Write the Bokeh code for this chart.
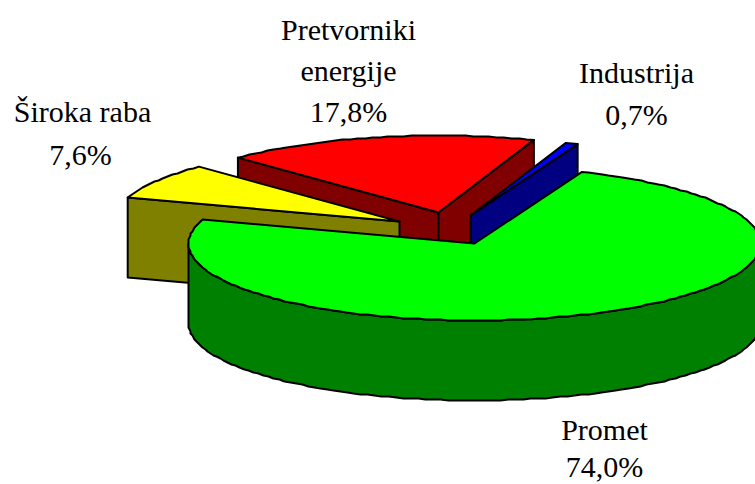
import numpy as np
from bokeh.plotting import figure
from bokeh.models import Range1d
from bokeh.core.properties import value
from bokeh.embed import file_html
from bokeh.resources import INLINE

# Data
categories = ["Promet", "Široka raba", "Pretvorniki energije", "Industrija"]
shares = [74.0, 7.6, 17.8, 0.7]
share_labels = ["74,0%", "7,6%", "17,8%", "0,7%"]

# Colours
top_colors = ["#00ff00", "#ffff00", "#ff0000", "#0000ff"]
side_colors = ["#008000", "#808000", "#800000", "#000080"]

# Projection
CX, CY = 474.0, 243.0
RX, RY = 286.0, 77.0
DEPTH = 80.0
START = 68.0
EXPLODE = [(0, 0), (-75, -22), (-36, -31), (-4, -28)]

p = figure(width=755, height=484, x_range=Range1d(0, 755), y_range=Range1d(484, 0),
           output_backend="svg", toolbar_location=None, min_border=0)
p.axis.visible = False
p.grid.visible = False
p.outline_line_color = None
p.background_fill_color = "white"

total = sum(shares)
a = START
spans = []
for s in shares:
    b = a - s / total * 360.0
    spans.append((a, b))
    a = b


def pt(t, ox, oy, dz=0.0):
    r = np.radians(t)
    return CX + ox + RX * np.cos(r), CY + oy - RY * np.sin(r) + dz


def arc(t0, t1, ox, oy, dz=0.0):
    n = max(2, int(abs(t1 - t0) / 1.5))
    ts = np.linspace(t0, t1, n)
    r = np.radians(ts)
    xs = CX + ox + RX * np.cos(r)
    ys = CY + oy - RY * np.sin(r) + dz
    # the reference outline is slightly jagged: snap inner vertices to whole pixels
    xs[1:-1] = np.round(xs[1:-1])
    ys[1:-1] = np.round(ys[1:-1])
    return xs, ys


def poly(xs, ys, color):
    p.patch(list(xs), list(ys), fill_color=color, line_color="black",
            line_width=2, line_join="round")


def wall(t, ox, oy, color):
    x0, y0 = CX + ox, CY + oy
    x1, y1 = pt(t, ox, oy)
    poly([x0, x1, x1, x0], [y0, y1, y1 + DEPTH, y0 + DEPTH], color)


def top(i):
    t0, t1 = spans[i]
    ox, oy = EXPLODE[i]
    xs, ys = arc(t0, t1, ox, oy)
    poly(np.r_[CX + ox, xs], np.r_[CY + oy, ys], top_colors[i])


# Back to front: red, yellow, blue, green
RED, YEL, BLU, GRN = 2, 1, 3, 0
ox, oy = EXPLODE[RED]
wall(spans[RED][0], ox, oy, side_colors[RED])
wall(spans[RED][1], ox, oy, side_colors[RED])
top(RED)

ox, oy = EXPLODE[YEL]
wall(spans[YEL][0], ox, oy, side_colors[YEL])
top(YEL)

ox, oy = EXPLODE[BLU]
wall(spans[BLU][1], ox, oy, side_colors[BLU])
top(BLU)

ox, oy = EXPLODE[GRN]
xs, ys = arc(-180, 0, ox, oy)
xb, yb = arc(0, -180, ox, oy, DEPTH)
poly(np.r_[xs, xb], np.r_[ys, yb], side_colors[GRN])
top(GRN)

# Labels (centre x, middle y)
label_lines = [
    ("Pretvorniki", 348, 29), ("energije", 348, 70), (share_labels[2], 348, 111),
    ("Industrija", 636, 72), (share_labels[3], 636, 114),
    ("Široka raba", 82, 111), (share_labels[1], 80, 154),
    ("Promet", 604, 429), (share_labels[0], 604, 466),
]
p.text([l[1] for l in label_lines], [l[2] for l in label_lines],
       text=[l[0] for l in label_lines],
       text_font=value("Liberation Serif"), text_font_size="30px",
       text_color="black", text_align="center", text_baseline="middle")

open("out.html", "w").write(file_html(p, INLINE))
